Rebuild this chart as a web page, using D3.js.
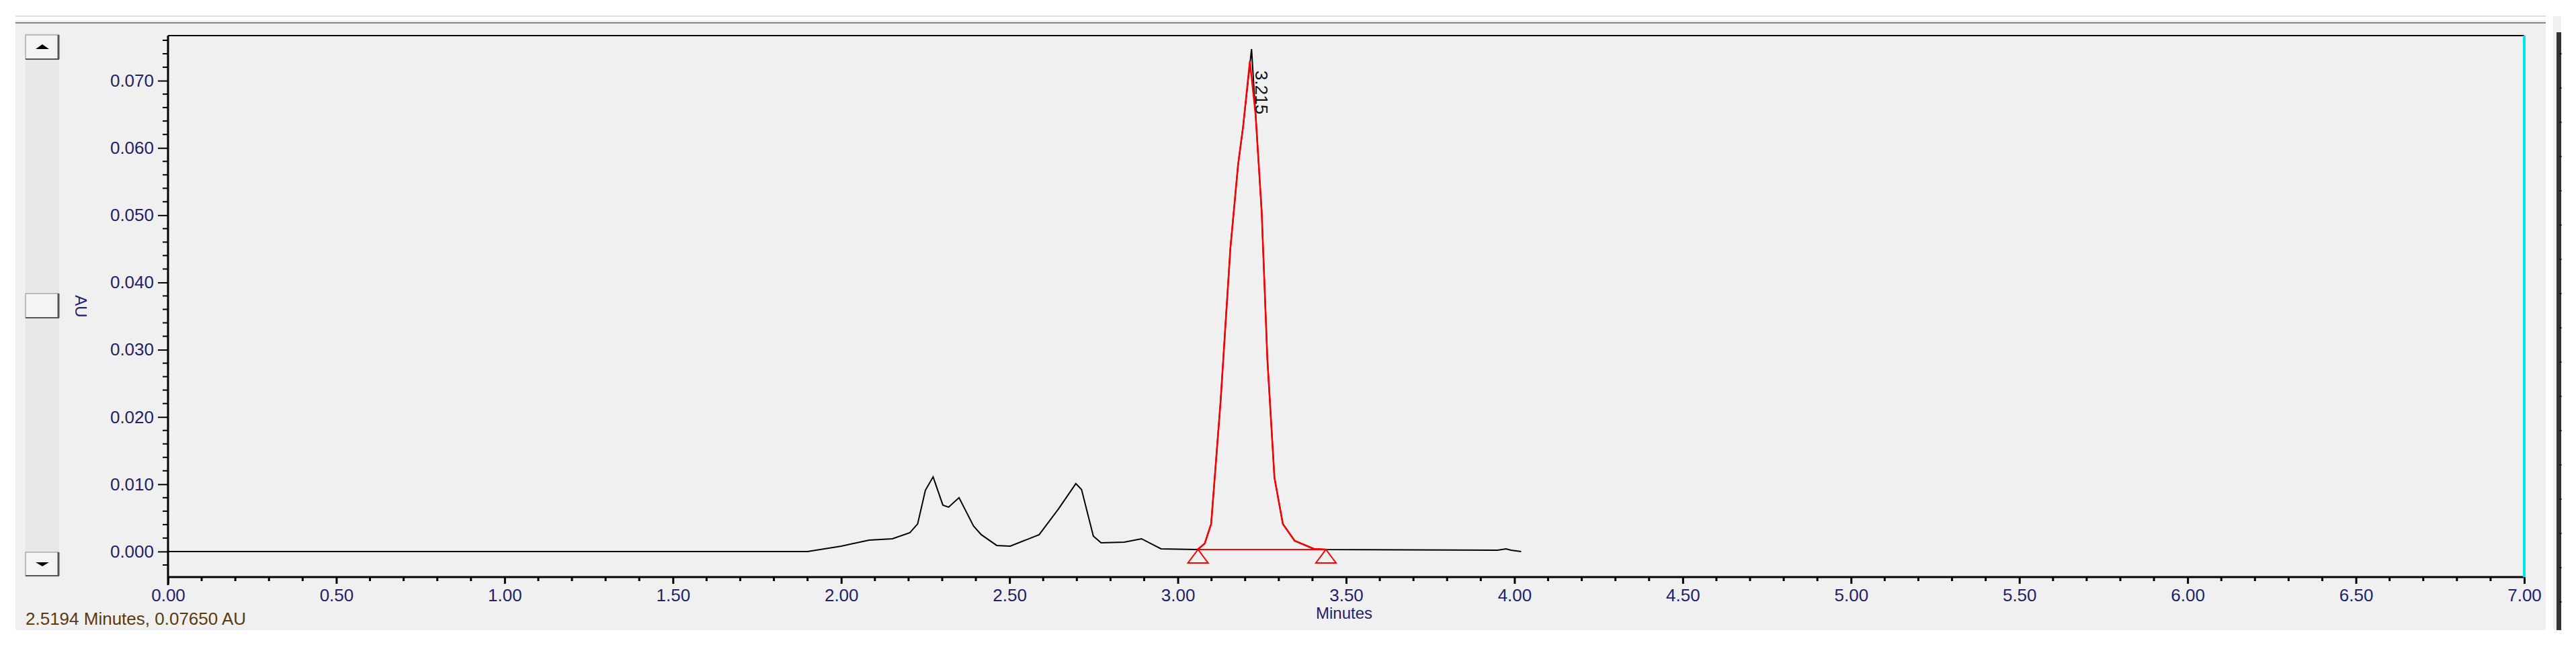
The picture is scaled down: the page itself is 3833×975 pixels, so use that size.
<!DOCTYPE html>
<html>
<head>
<meta charset="utf-8">
<script src="https://cdn.jsdelivr.net/npm/d3@7"></script>
<style>
  body { margin: 0; background: #fff; }
  text { font-family: 'Liberation Sans', Arial, sans-serif; }
</style>
</head>
<body>
<div id="chart"></div>
<script>
// black trace (minutes, AU)
const traceTime = [0, 1.90, 2.00, 2.083, 2.152, 2.204, 2.227, 2.25, 2.273, 2.302, 2.319, 2.35, 2.393, 2.416, 2.462, 2.502, 2.588, 2.645, 2.697, 2.714, 2.749, 2.772, 2.841, 2.892, 2.95, 3.059, 3.08, 3.099, 3.127, 3.156, 3.179, 3.194, 3.219, 3.231, 3.249, 3.266, 3.287, 3.312, 3.347, 3.404, 3.439, 3.95, 3.975, 3.99, 4.02, 7.0]
const traceAU = [0, 0, 0.0008, 0.0017, 0.0019, 0.0028, 0.0041, 0.0091, 0.0111, 0.0069, 0.0066, 0.0080, 0.0038, 0.0025, 0.0009, 0.0008, 0.0025, 0.0063, 0.0101, 0.0092, 0.0023, 0.0013, 0.0014, 0.0019, 0.0004, 0.0003, 0.0012, 0.0041, 0.0223, 0.0450, 0.0575, 0.0632, 0.0747, 0.0650, 0.0506, 0.0286, 0.0110, 0.0041, 0.0016, 0.0004, 0.0003, 0.0002, 0.0004, 0.0002, 0, 0]

// integrated peak (red)
const peakTime = [3.059, 3.08, 3.099, 3.127, 3.156, 3.179, 3.194, 3.214, 3.231, 3.249, 3.266, 3.287, 3.312, 3.347, 3.404, 3.439]
const peakAU = [0.0003, 0.0012, 0.0041, 0.0223, 0.0450, 0.0575, 0.0632, 0.0729, 0.0650, 0.0506, 0.0286, 0.0110, 0.0041, 0.0016, 0.0004, 0.0003]
const peakBase = [[3.06, 0.0003], [3.44, 0.0003]]
const peakLabel = '3.215'
const peakLabelTime = 3.215

const yTicks = [0, 0.01, 0.02, 0.03, 0.04, 0.05, 0.06, 0.07]
const xTicks = [0, 0.5, 1, 1.5, 2, 2.5, 3, 3.5, 4, 4.5, 5, 5.5, 6, 6.5, 7]
const statusText = '2.5194 Minutes, 0.07650 AU'

const W = 3833
const H = 975
const plotLeft = 250
const plotRight = 3756
const plotTop = 53
const plotBottom = 859

const svg = d3.select('#chart').append('svg').attr('width', W).attr('height', H)

// window background
svg.append('rect').attr('x', 23).attr('y', 30).attr('width', 3765).attr('height', 908).attr('fill', '#f0f0f0')
svg.append('line').attr('x1', 23).attr('x2', 3788).attr('y1', 34).attr('y2', 34).attr('stroke', '#888').attr('stroke-width', 2)
svg.append('line').attr('x1', 23).attr('x2', 3788).attr('y1', 24).attr('y2', 24).attr('stroke', '#ddd').attr('stroke-width', 2)

// right side panel
svg.append('rect').attr('x', 3799).attr('y', 24).attr('width', 12).attr('height', 914).attr('fill', '#f0f0f0')
svg.append('rect').attr('x', 3804).attr('y', 48).attr('width', 7).attr('height', 890).attr('fill', '#333')
d3.range(80, 940, 51).forEach(v => {
  svg.append('line').attr('x1', 3808).attr('x2', 3812).attr('y1', v).attr('y2', v).attr('stroke', '#000')
})

// scrollbar on left
svg.append('rect').attr('x', 38).attr('y', 50).attr('width', 50).attr('height', 810).attr('fill', '#e8e8e8')
function button(by, h) {
  svg.append('rect').attr('x', 38).attr('y', by).attr('width', 49).attr('height', h).attr('fill', '#f4f4f4').attr('stroke', '#888').attr('stroke-width', 1)
  svg.append('line').attr('x1', 87).attr('x2', 87).attr('y1', by).attr('y2', by + h).attr('stroke', '#555').attr('stroke-width', 3)
  svg.append('line').attr('x1', 38).attr('x2', 88).attr('y1', by + h).attr('y2', by + h).attr('stroke', '#555').attr('stroke-width', 2)
}
button(52, 36)
button(437, 36)
button(822, 35)
svg.append('path').attr('d', 'M53,73 L63,66 L73,73 Z').attr('fill', '#000')
svg.append('path').attr('d', 'M53,837 L63,843 L73,837 Z').attr('fill', '#000')

const x = d3.scaleLinear().domain([0, 7]).range([plotLeft, plotRight])
const y = d3.scaleLinear().domain([-0.0038, 0.0767]).range([plotBottom, plotTop])

// plot frame
svg.append('line').attr('x1', plotLeft).attr('x2', plotRight).attr('y1', plotTop).attr('y2', plotTop).attr('stroke', '#000').attr('stroke-width', 2)

// y axis
const yAxis = d3.axisLeft(y).tickValues(yTicks).tickFormat(d3.format('.3f')).tickSize(15).tickPadding(6)
const gy = svg.append('g').attr('transform', `translate(${plotLeft},0)`).call(yAxis)
gy.select('.domain').remove()
gy.selectAll('text').attr('font-size', 26).attr('fill', '#22226a')
gy.selectAll('line').attr('stroke-width', 2)
const yMinor = d3.range(-0.002, 0.0767, 0.002).filter(v => Math.abs(v * 100 - Math.round(v * 100)) > 1e-6)
svg.append('g').selectAll('line').data(yMinor).enter().append('line')
  .attr('x1', plotLeft - 8).attr('x2', plotLeft).attr('y1', d => y(d)).attr('y2', d => y(d))
  .attr('stroke', '#000').attr('stroke-width', 2)
svg.append('line').attr('x1', plotLeft).attr('x2', plotLeft).attr('y1', plotTop).attr('y2', plotBottom + 12).attr('stroke', '#000').attr('stroke-width', 3)

// x axis
const xAxis = d3.axisBottom(x).tickValues(xTicks).tickFormat(d3.format('.2f')).tickSize(10).tickPadding(8)
const gx = svg.append('g').attr('transform', `translate(0,${plotBottom})`).call(xAxis)
gx.select('.domain').remove()
gx.selectAll('text').attr('font-size', 26).attr('fill', '#22226a')
gx.selectAll('line').attr('stroke-width', 3)
const xMinor = d3.range(0.1, 7, 0.1).filter(v => Math.abs(v * 2 - Math.round(v * 2)) > 1e-6)
svg.append('g').selectAll('line').data(xMinor).enter().append('line')
  .attr('x1', d => x(d)).attr('x2', d => x(d)).attr('y1', plotBottom).attr('y2', plotBottom + 6)
  .attr('stroke', '#000').attr('stroke-width', 3)
svg.append('line').attr('x1', plotLeft).attr('x2', plotRight).attr('y1', plotBottom).attr('y2', plotBottom).attr('stroke', '#000').attr('stroke-width', 3)

// cyan end marker
svg.append('line').attr('x1', x(7)).attr('x2', x(7)).attr('y1', plotTop).attr('y2', plotBottom).attr('stroke', '#00e5ee').attr('stroke-width', 4)

// traces
const line = d3.line().x(d => x(d[0])).y(d => y(d[1]))
const trace = traceTime.map((t, i) => [t, traceAU[i]])
svg.append('path').datum(trace.filter(d => d[0] <= 6.98)).attr('d', line).attr('fill', 'none').attr('stroke', '#000').attr('stroke-width', 2)
const peak = peakTime.map((t, i) => [t, peakAU[i]])
svg.append('path').datum(peak).attr('d', line).attr('fill', 'none').attr('stroke', '#ff0000').attr('stroke-width', 2.5)
svg.append('path').datum(peakBase).attr('d', line).attr('fill', 'none').attr('stroke', '#ff0000').attr('stroke-width', 2)
svg.selectAll('.tri').data(peakBase).enter().append('path').attr('class', 'tri')
  .attr('d', d => {
    const cx = x(d[0])
    const cy = y(d[1])
    return `M${cx},${cy} L${cx - 15},${cy + 20} L${cx + 15},${cy + 20} Z`
  })
  .attr('fill', 'none').attr('stroke', '#ff0000').attr('stroke-width', 2)

// peak label
svg.append('text').attr('transform', `translate(${x(peakLabelTime) + 8},${y(0.0715)}) rotate(90)`)
  .attr('font-size', 26).attr('fill', '#111').attr('text-anchor', 'start').text(peakLabel)

// labels
svg.append('text').attr('transform', `translate(112,456) rotate(90)`).attr('text-anchor', 'middle')
  .attr('font-size', 24).attr('fill', '#22226a').text('AU')
svg.append('text').attr('x', 2000).attr('y', 921).attr('text-anchor', 'middle')
  .attr('font-size', 24).attr('fill', '#22226a').text('Minutes')
svg.append('text').attr('x', 38).attr('y', 930)
  .attr('font-size', 26).attr('fill', '#5a3a10').text(statusText)
</script>
</body>
</html>
